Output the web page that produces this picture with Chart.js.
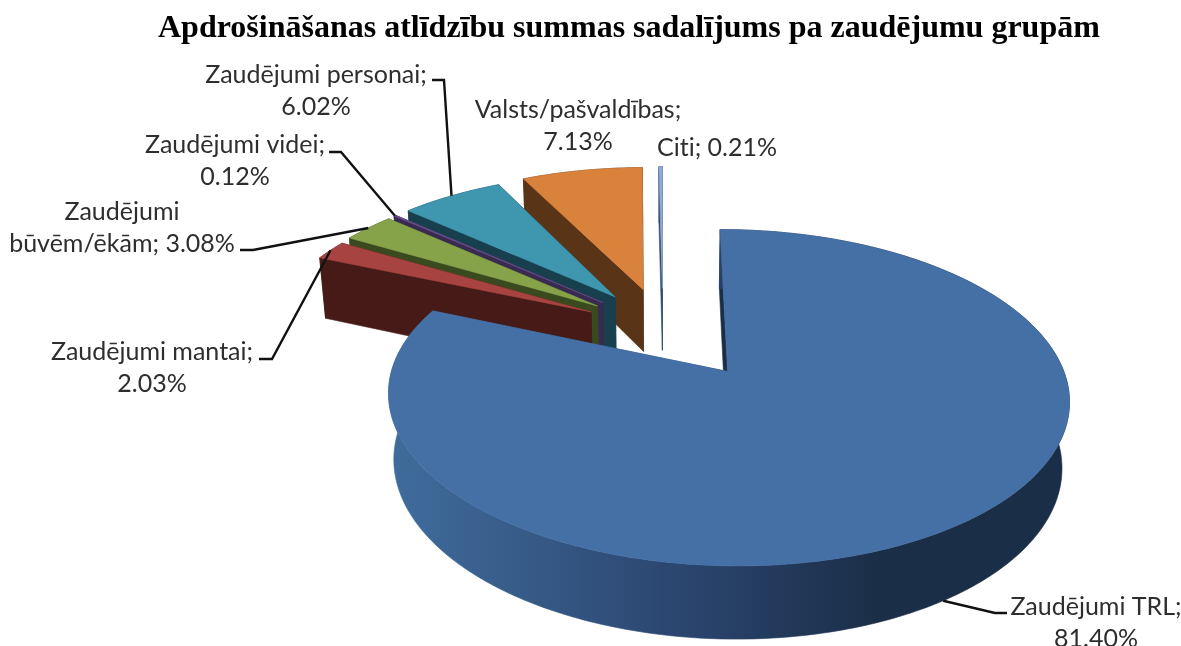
<!DOCTYPE html>
<html>
<head>
<meta charset="utf-8">
<title>Apdrošināšanas atlīdzību summas</title>
<script src="https://cdn.jsdelivr.net/npm/chart.js@4/dist/chart.umd.min.js"></script>
<style>
	html, body { margin: 0; padding: 0; background: #fff; overflow: hidden; }
	canvas { display: block; }
</style>
</head>
<body>
<canvas id="pie_chart" width="1181" height="646"></canvas>
<script>
const chart_title = 'Apdrošināšanas atlīdzību summas sadalījums pa zaudējumu grupām';
const categories = ['Zaudējumi TRL', 'Zaudējumi mantai', 'Zaudējumi būvēm/ēkām', 'Zaudējumi videi', 'Zaudējumi personai', 'Valsts/pašvaldības', 'Citi'];
const percents = [81.40, 2.03, 3.08, 0.12, 6.02, 7.13, 0.21];
const top_colors = ['#4570a6', '#a74442', '#87a349', '#6a4d8c', '#3e96af', '#d9823c', '#8fabd6'];
const wall_colors = ['#1b2e47', '#461b17', '#3a4a1f', '#382a50', '#173f4d', '#5a3416', '#33496b'];

// how each label is broken in lines (text comes from categories and percents)
const label_breaks = [
	(c, p) => [c + ';', p],
	(c, p) => [c + ';', p],
	(c, p) => ['Zaudējumi', 'būvēm/ēkām; ' + p],
	(c, p) => [c + ';', p],
	(c, p) => [c + ';', p],
	(c, p) => [c + ';', p],
	(c, p) => [c + '; ' + p],
];
const label_centers = [[1096, 607], [152, 352], [122, 212], [235, 145], [316, 75], [578, 110], [717, 148]];
const leader_starts = [[1007, 613], [259, 359], [240, 250], [329, 152], [432, 80], null, null];
const leader_elbows = [[995, 613], [272, 359], [253, 250], [341, 152], [444, 80], null, null];

// view of the tilted pie, the disk has radius 1
const view = {cx: 668, cy: 332, a: 323.6, b: 152, p: 0.15, c: 65, r: 0.018, explode: 0.3};
const nudge_x = [4, 8, 6, 5, 4, -3, -5];

function project (u, v, z, i) {
	const w = 1 - view.p * v + view.r * z;
	return [
		view.cx + nudge_x[i] + view.a * u / w,
		view.cy + (view.b * v + view.c * z) / w,
	];
}

// chart.js angles start at 3 o'clock, u goes right and v goes down
function rim_point (arc, angle, z, i) {
	const mid = (arc.startAngle + arc.endAngle) / 2;
	const u = view.explode * Math.cos(mid) + Math.cos(angle);
	const v = view.explode * Math.sin(mid) + Math.sin(angle);
	return project(u, v, z, i);
}

function tip_point (arc, z, i) {
	const mid = (arc.startAngle + arc.endAngle) / 2;
	return project(view.explode * Math.cos(mid), view.explode * Math.sin(mid), z, i);
}

function fill_path (ctx, points, color) {
	ctx.beginPath();
	points.forEach((pt, n) => n ? ctx.lineTo(pt[0], pt[1]) : ctx.moveTo(pt[0], pt[1]));
	ctx.closePath();
	ctx.fillStyle = color;
	ctx.strokeStyle = color;
	ctx.lineWidth = 0.6;
	ctx.fill();
	ctx.stroke();
}

function arc_points (arc, z, i) {
	const steps = Math.max(2, Math.ceil((arc.endAngle - arc.startAngle) * 60));
	const points = [];
	for (let s = 0; s <= steps; s++) {
		points.push(rim_point(arc, arc.startAngle + (arc.endAngle - arc.startAngle) * s / steps, z, i));
	}
	return points;
}

function blue_wall (ctx) {
	const grad = ctx.createLinearGradient(392, 0, 880, 0);
	grad.addColorStop(0, '#3f6c9c');
	grad.addColorStop(0.28, '#375a87');
	grad.addColorStop(0.58, '#2b4670');
	grad.addColorStop(1, '#1b2e47');
	return grad;
}

function draw_slice (ctx, arc, i) {
	const wall = i === 0 ? blue_wall(ctx) : wall_colors[i];
	const tip_0 = tip_point(arc, 0, i);
	const tip_1 = tip_point(arc, 1, i);
	fill_path(ctx, [tip_0, rim_point(arc, arc.startAngle, 0, i), rim_point(arc, arc.startAngle, 1, i), tip_1], i === 0 ? wall_colors[0] : wall);
	fill_path(ctx, [tip_0, rim_point(arc, arc.endAngle, 0, i), rim_point(arc, arc.endAngle, 1, i), tip_1], wall);
	fill_path(ctx, arc_points(arc, 0, i).concat(arc_points(arc, 1, i).reverse()), wall);
	fill_path(ctx, [tip_0].concat(arc_points(arc, 0, i)), top_colors[i]);
}

function draw_labels (ctx, arcs) {
	ctx.textAlign = 'center';
	ctx.textBaseline = 'middle';
	ctx.textRendering = 'optimizeSpeed';
	ctx.font = '25px Lato';
	arcs.forEach((arc, i) => {
		const pct = percents[i].toFixed(2) + '%';
		const lines = label_breaks[i](categories[i], pct);
		ctx.fillStyle = '#2e2e2e';
		lines.forEach((line, n) => ctx.fillText(line, label_centers[i][0], label_centers[i][1] + n * 31.5));
		if (leader_starts[i]) {
			const mid = (arc.startAngle + arc.endAngle) / 2;
			const end = rim_point(arc, mid, i === 0 ? 1 : 0, i);
			ctx.beginPath();
			ctx.moveTo(leader_starts[i][0], leader_starts[i][1]);
			ctx.lineTo(leader_elbows[i][0], leader_elbows[i][1]);
			ctx.lineTo(end[0], end[1]);
			ctx.strokeStyle = '#111';
			ctx.lineWidth = 2.4;
			ctx.stroke();
		}
	});
}

const tilted_pie = {
	id: 'tilted_pie',
	beforeDatasetsDraw (chart) {
		const ctx = chart.ctx;
		const arcs = chart.getDatasetMeta(0).data;
		ctx.save();
		for (let i = arcs.length - 1; i >= 0; i--) {
			draw_slice(ctx, arcs[i], i);
		}
		draw_labels(ctx, arcs);
		ctx.restore();
		return false;
	},
};

new Chart('pie_chart', {
	type: 'pie',
	data: {
		labels: categories,
		datasets: [{
			data: percents,
			backgroundColor: top_colors,
		}],
	},
	plugins: [tilted_pie],
	options: {
		responsive: false,
		animation: false,
		layout: {padding: {left: 158}},
		plugins: {
			legend: {display: false},
			tooltip: {enabled: false},
			title: {
				display: true,
				text: chart_title,
				align: 'start',
				color: '#000',
				font: {family: 'Liberation Serif', size: 32, weight: 'bold'},
				padding: {top: 10, bottom: 0},
			},
		},
	},
});
</script>
</body>
</html>
